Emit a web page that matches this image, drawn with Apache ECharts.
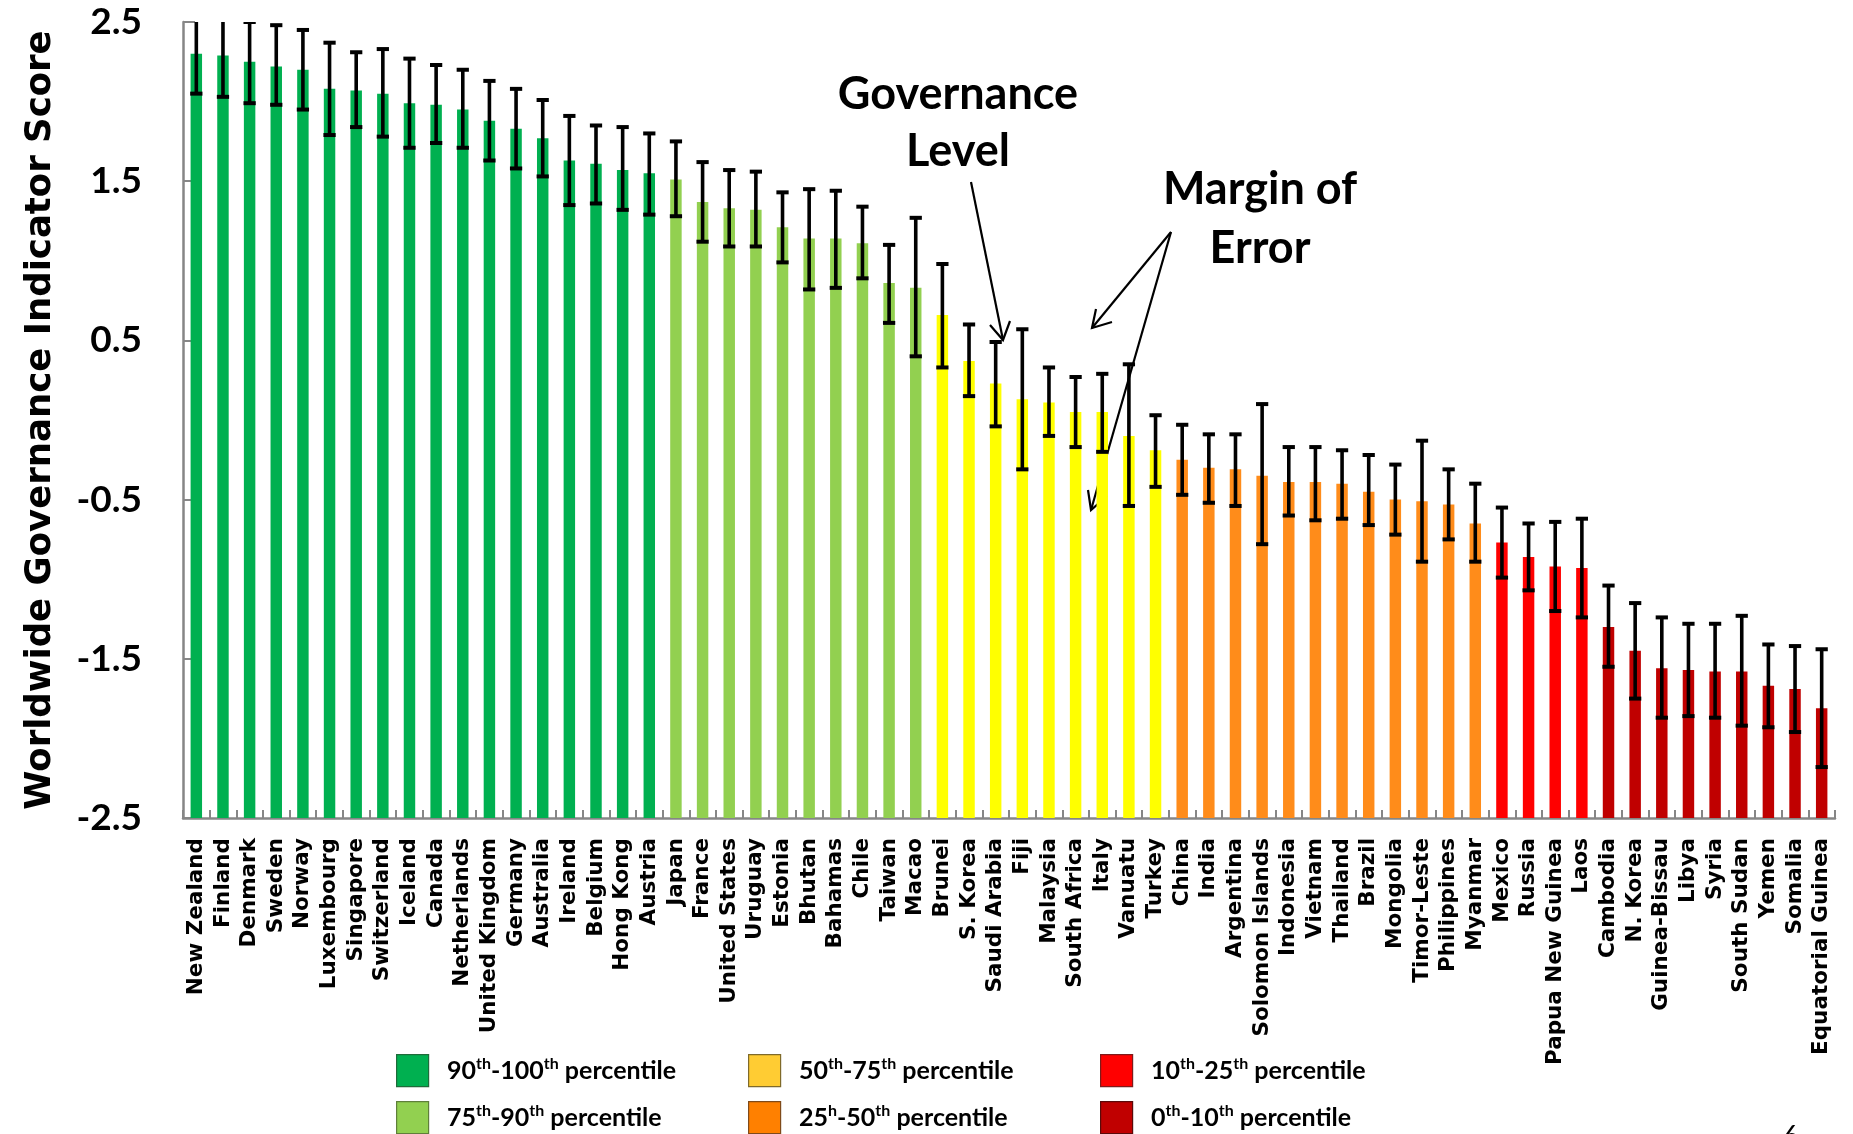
<!DOCTYPE html>
<html>
<head>
<meta charset="utf-8">
<script src="https://cdn.jsdelivr.net/npm/echarts@6/dist/echarts.min.js"></script>
<style>
html,body{margin:0;padding:0;background:#fff;}
#chart{width:1853px;height:1134px;}
</style>
</head>
<body>
<div id="chart"></div>
<script>
const countries = ["New Zealand","Finland","Denmark","Sweden","Norway","Luxembourg","Singapore","Switzerland","Iceland","Canada","Netherlands","United Kingdom","Germany","Australia","Ireland","Belgium","Hong Kong","Austria","Japan","France","United States","Uruguay","Estonia","Bhutan","Bahamas","Chile","Taiwan","Macao","Brunei","S. Korea","Saudi Arabia","Fiji","Malaysia","South Africa","Italy","Vanuatu","Turkey","China","India","Argentina","Solomon Islands","Indonesia","Vietnam","Thailand","Brazil","Mongolia","Timor-Leste","Philippines","Myanmar","Mexico","Russia","Papua New Guinea","Laos","Cambodia","N. Korea","Guinea-Bissau","Libya","Syria","South Sudan","Yemen","Somalia","Equatorial Guinea"];

const scores = [2.30,2.29,2.25,2.22,2.20,2.08,2.07,2.05,1.99,1.98,1.95,1.88,1.83,1.77,1.63,1.61,1.57,1.55,1.51,1.37,1.33,1.32,1.21,1.14,1.14,1.11,0.86,0.83,0.66,0.37,0.23,0.13,0.11,0.05,0.05,-0.10,-0.19,-0.25,-0.30,-0.31,-0.35,-0.39,-0.39,-0.40,-0.45,-0.50,-0.51,-0.53,-0.65,-0.77,-0.86,-0.92,-0.93,-1.30,-1.45,-1.56,-1.57,-1.58,-1.58,-1.67,-1.69,-1.81];

const lowerBounds = [2.05,2.03,1.99,1.98,1.95,1.79,1.84,1.78,1.71,1.74,1.71,1.63,1.58,1.53,1.35,1.36,1.32,1.29,1.28,1.12,1.09,1.09,0.99,0.82,0.83,0.89,0.61,0.40,0.33,0.15,-0.04,-0.31,-0.10,-0.17,-0.20,-0.54,-0.42,-0.47,-0.52,-0.54,-0.78,-0.60,-0.63,-0.62,-0.66,-0.72,-0.89,-0.75,-0.89,-0.99,-1.07,-1.20,-1.24,-1.55,-1.75,-1.87,-1.86,-1.87,-1.92,-1.93,-1.96,-2.18];

const upperBounds = [2.55,2.54,2.50,2.48,2.45,2.37,2.31,2.33,2.27,2.23,2.20,2.13,2.08,2.01,1.91,1.85,1.84,1.80,1.75,1.62,1.57,1.56,1.43,1.45,1.44,1.34,1.10,1.27,0.98,0.60,0.49,0.57,0.33,0.27,0.29,0.35,0.03,-0.03,-0.09,-0.09,0.10,-0.17,-0.17,-0.19,-0.22,-0.28,-0.13,-0.31,-0.40,-0.55,-0.65,-0.64,-0.62,-1.04,-1.15,-1.24,-1.28,-1.28,-1.23,-1.41,-1.42,-1.44];

// percentile tier of each country (0 = 90th-100th ... 5 = 0th-10th)
const tiers = [0,0,0,0,0,0,0,0,0,0,0,0,0,0,0,0,0,0,
               1,1,1,1,1,1,1,1,1,1,
               2,2,2,2,2,2,2,2,2,
               3,3,3,3,3,3,3,3,3,3,3,3,
               4,4,4,4,
               5,5,5,5,5,5,5,5,5];

const barColors = ['#00B050','#92D050','#FFFF00','#FF8C1A','#FF0000','#C00000'];
const legendColors = ['#00B050','#92D050','#FFCC33','#FF8000','#FF0000','#C00000'];
const legendBorders = ['#1f6b3a','#5f7f3a','#7f6a2a','#7f4a1a','#7f1a1a','#5a0a0a'];
const legendLabels = [
  ['90','th','-100','th',' percentile'],
  ['75','th','-90','th',' percentile'],
  ['50','th','-75','th',' percentile'],
  ['25','h','-50','th',' percentile'],
  ['10','th','-25','th',' percentile'],
  ['0','th','-10','th',' percentile']
];
const yMin = -2.5, yMax = 2.5, yStep = 1;
const yTitle = 'Worldwide Governance Indicator Score';

const chart = echarts.init(document.getElementById('chart'), null, {renderer:'canvas'});

function renderBar(params, api) {
  const i = api.value(0);
  const v = api.value(1);
  const top = api.coord([i, v]);
  const base = api.coord([i, yMin]);
  const w = api.size([1, 0])[0] * 0.43;
  return {
    type: 'rect',
    shape: {x: top[0] - w / 2, y: top[1], width: w, height: base[1] - top[1]},
    style: {fill: barColors[tiers[i]]}
  };
}
function renderErr(params, api) {
  const i = api.value(0);
  const lo = api.coord([i, api.value(1)]);
  const hi = api.coord([i, api.value(2)]);
  const hw = api.size([1, 0])[0] * 0.46 / 2;
  const st = {stroke: '#000', lineWidth: 4, fill: null};
  return {
    type: 'group',
    children: [
      {type: 'line', shape: {x1: hi[0], y1: hi[1], x2: lo[0], y2: lo[1]}, style: {stroke: '#000', lineWidth: 3.6}},
      {type: 'line', shape: {x1: hi[0] - hw, y1: hi[1], x2: hi[0] + hw, y2: hi[1]}, style: st},
      {type: 'line', shape: {x1: lo[0] - hw, y1: lo[1], x2: lo[0] + hw, y2: lo[1]}, style: st}
    ]
  };
}

const calib = 'Lato, "Liberation Sans", sans-serif';
const verd = '"DejaVu Sans", Verdana, sans-serif';

// legend graphics
const legendGraphics = [];
const colX = [396, 748, 1100];
const rowY = [1054, 1101];
for (let k = 0; k < legendLabels.length; k++) {
  const col = Math.floor(k / 2), row = k % 2;
  const parts = legendLabels[k];
  legendGraphics.push({
    type: 'rect', left: colX[col], top: rowY[row],
    shape: {width: 32, height: 32},
    style: {fill: legendColors[k], stroke: legendBorders[k], lineWidth: 1.2}
  });
  legendGraphics.push({
    type: 'text', x: colX[col] + 51, y: rowY[row] + 17,
    style: {
      text: '{n|' + parts[0] + '}{s|' + parts[1] + '}{n|' + parts[2] + '}{s|' + parts[3] + '}{n|' + parts[4] + '}',
      verticalAlign: 'middle', align: 'left',
      rich: {
        n: {fontFamily: calib, fontWeight: 'bold', fontSize: 25, fill: '#000', lineHeight: 30, verticalAlign: 'middle'},
        s: {fontFamily: calib, fontWeight: 'bold', fontSize: 16, fill: '#000', lineHeight: 30, verticalAlign: 'top', padding: [0, 0, 14, 0]}
      }
    }
  });
}

function arrow(x1, y1, x2, y2, h1x, h1y, h2x, h2y) {
  return [
    {type: 'line', shape: {x1: x1, y1: y1, x2: x2, y2: y2}, style: {stroke: '#000', lineWidth: 2.2}},
    {type: 'polyline', shape: {points: [[h1x, h1y], [x2, y2], [h2x, h2y]]}, style: {stroke: '#000', lineWidth: 2.2, fill: null}}
  ];
}

const annoStyle = {fontFamily: calib, fontWeight: 'bold', fontSize: 45, fill: '#000', align: 'center', verticalAlign: 'middle'};

const option = {
  backgroundColor: '#fff',
  animation: false,
  grid: {left: 183, right: 18, top: 22, bottom: 316, containLabel: false, outerBoundsMode: 'none'},
  xAxis: {
    type: 'category',
    data: countries,
    boundaryGap: true,
    axisLine: {show: true, onZero: false, lineStyle: {color: '#868686', width: 2.5}},
    axisTick: {show: true, inside: true, length: 8, interval: 0, alignWithLabel: false, lineStyle: {color: '#868686', width: 2}},
    axisLabel: {interval: 0, rotate: 90, margin: 20, color: '#000', fontFamily: verd, fontWeight: 'bold', fontSize: 21.5},
    splitLine: {show: false}
  },
  yAxis: {
    type: 'value',
    min: yMin, max: yMax, interval: yStep,
    name: yTitle,
    nameLocation: 'middle',
    nameGap: 124,
    nameRotate: 90,
    nameTextStyle: {color: '#000', fontFamily: verd, fontWeight: 'bold', fontSize: 35.5},
    axisLine: {show: true, lineStyle: {color: '#868686', width: 2.5}},
    axisTick: {show: true, inside: true, length: 12, lineStyle: {color: '#868686', width: 2}},
    axisLabel: {margin: 41, color: '#000', fontFamily: calib, fontWeight: 'bold', fontSize: 37, formatter: v => v.toFixed(1)},
    splitLine: {show: false}
  },
  series: [
    {
      type: 'custom', name: 'Governance Level', clip: true,
      renderItem: renderBar,
      encode: {x: 0, y: 1},
      data: countries.map((c, i) => [i, scores[i]]),
      z: 2
    },
    {
      type: 'custom', name: 'Margin of Error', clip: true,
      renderItem: renderErr,
      encode: {x: 0, y: [1, 2]},
      data: countries.map((c, i) => [i, lowerBounds[i], upperBounds[i]]),
      z: 3
    }
  ],
  graphic: [
    {type: 'text', x: 958, y: 94, style: Object.assign({text: 'Governance'}, annoStyle)},
    {type: 'text', x: 958, y: 151, style: Object.assign({text: 'Level'}, annoStyle)},
    {type: 'text', x: 1260, y: 189, style: Object.assign({text: 'Margin of'}, annoStyle)},
    {type: 'text', x: 1260, y: 248, style: Object.assign({text: 'Error'}, annoStyle)},
    ...arrow(971, 182, 1003, 340, 990, 325, 1010, 321),
    ...arrow(1171, 232, 1092, 328, 1096, 309, 1112, 322),
    ...arrow(1171, 232, 1091, 510, 1088, 490, 1107, 496),
    {type: 'text', x: 1791, y: 1124, style: {text: '6', fontFamily: calib, fontSize: 26, fill: '#000', align: 'center', verticalAlign: 'top'}},
    ...legendGraphics
  ]
};
chart.setOption(option);
</script>
</body>
</html>
